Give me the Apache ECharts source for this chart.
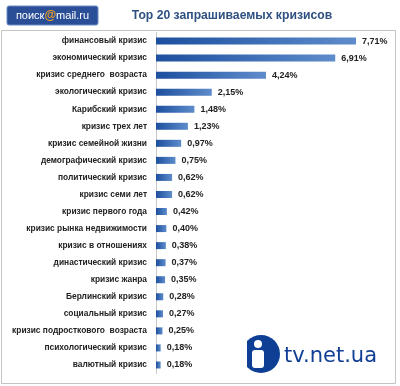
<!DOCTYPE html>
<html><head><meta charset="utf-8">
<script src="https://cdn.jsdelivr.net/npm/echarts@6/dist/echarts.min.js"></script>
<style>html,body{margin:0;padding:0;background:#fff}#c{width:400px;height:386px}</style>
</head><body><div id="c"></div>
<script>
const categories = ["финансовый кризис","экономический кризис","кризис среднего  возраста","экологический кризис","Карибский кризис","кризис трех лет","кризис семейной жизни","демографический кризис","политический кризис","кризис семи лет","кризис первого года","кризис рынка недвижимости","кризис в отношениях","династический кризис","кризис жанра","Берлинский кризис","социальный кризис","кризис подросткового  возраста","психологический кризис","валютный кризис"];
const values = [7.71,6.91,4.24,2.15,1.48,1.23,0.97,0.75,0.62,0.62,0.42,0.40,0.38,0.37,0.35,0.28,0.27,0.25,0.18,0.18];
const titleText = "Top 20 запрашиваемых кризисов";

const chart = echarts.init(document.getElementById('c'), null, {renderer:'canvas'});
const F = '"Liberation Sans", Arial, sans-serif';
chart.setOption({
  animation:false,
  backgroundColor:'#fff',
  grid:{left:156, top:32.5, width:207.5, height:341, containLabel:false},
  xAxis:{type:'value', min:0, max:8, show:false},
  yAxis:{type:'category', data:categories, inverse:true,
    axisLine:{show:true, lineStyle:{color:'#c8c8c8', width:1}},
    axisTick:{show:false},
    axisLabel:{margin:9, color:'#222', fontFamily:F, fontWeight:'bold', fontSize:8.4}},
  series:[{type:'bar', data:values, barWidth:7,
    itemStyle:{color:new echarts.graphic.LinearGradient(0,0,1,0,[{offset:0,color:'#1c4f9e'},{offset:1,color:'#5e8ccb'}])},
    label:{show:true, position:'right', distance:6, color:'#222', fontFamily:F, fontWeight:'bold', fontSize:9,
      formatter:p=>p.value.toFixed(2).replace('.',',')+'%'}}],
  graphic:[
    {type:'rect', shape:{x:1.5,y:30.5,width:394,height:353}, style:{fill:'none', stroke:'#c4c4c4', lineWidth:1}, z:-1},
    {type:'rect', shape:{x:7,y:6,width:91,height:19,r:2}, style:{fill:'#2b4f97', stroke:'#6d8cc4', lineWidth:1}},
    {type:'text', x:52.5, y:15.5, style:{text:'{a|поиск}{b|@}{a|mail.ru}', align:'center', verticalAlign:'middle',
      rich:{a:{fill:'#fff', fontFamily:F, fontSize:11}, b:{fill:'#f0a020', fontFamily:F, fontWeight:'bold', fontSize:12}}}},
    {type:'text', x:232, y:16, style:{text:titleText, align:'center', verticalAlign:'middle', fill:'#2f5182', fontFamily:F, fontWeight:'bold', fontSize:12.2}},
    {type:'circle', shape:{cx:261, cy:354, r:19}, style:{fill:'#0e3f95'}},
    {type:'rect', shape:{x:239, y:333, width:8, height:44}, style:{fill:'#fff'}},
    {type:'circle', shape:{cx:258, cy:344, r:4}, style:{fill:'#fff'}},
    {type:'rect', shape:{x:252, y:350, width:12, height:18, r:3}, style:{fill:'#fff'}},
    {type:'text', x:284, y:357, style:{text:'tv.net.ua', align:'left', verticalAlign:'middle', fill:'#123f96', fontFamily:'"DejaVu Sans", sans-serif', fontSize:21}}
  ]
});
</script></body></html>
